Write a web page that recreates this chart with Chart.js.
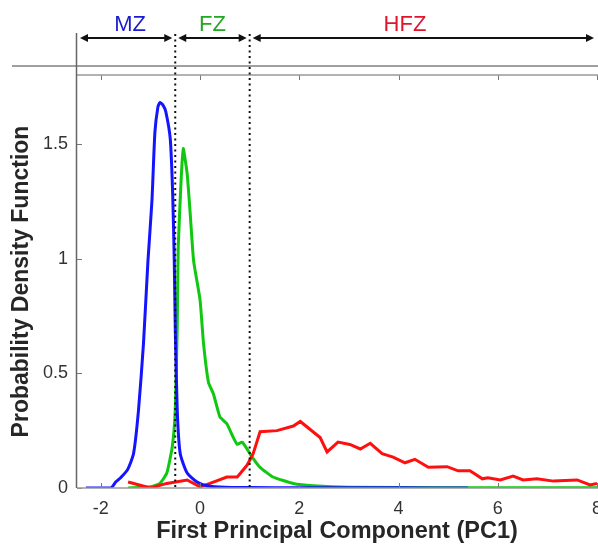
<!DOCTYPE html>
<html>
<head>
<meta charset="utf-8">
<script src="https://cdn.jsdelivr.net/npm/chart.js@4"></script>
<style>
    html, body { margin: 0; padding: 0; background: #fff; }
    canvas { display: block; }
</style>
</head>
<body>
<canvas id="pdfChart" width="598" height="546"></canvas>
<script>
// PDF curves of PC1 for the three zones
const mzX = [-2.3, -1.8, -1.7, -1.6, -1.46, -1.34, -1.24, -1.14, -1.05, -0.97, -0.91, -0.85, -0.81, -0.75, -0.69, -0.6, -0.55, -0.52, -0.5, -0.46, -0.4, -0.26, -0.06, 0.14, 0.5, 1, 2, 3, 4, 5.4];
const mzY = [0, 0, 0.026, 0.045, 0.08, 0.15, 0.34, 0.63, 0.99, 1.25, 1.55, 1.66, 1.68, 1.67, 1.64, 1.52, 1.27, 0.99, 0.7, 0.34, 0.15, 0.065, 0.026, 0.01, 0.003, 0.002, 0.001, 0.001, 0.001, 0];

const fzX = [-1.45, -1.0, -0.81, -0.67, -0.56, -0.5, -0.46, -0.44, -0.38, -0.34, -0.26, -0.2, -0.13, 0.0, 0.07, 0.17, 0.27, 0.4, 0.54, 0.67, 0.75, 0.85, 1.05, 1.21, 1.47, 1.88, 2.28, 3, 5, 8];
const fzY = [0, 0.005, 0.02, 0.065, 0.18, 0.34, 0.7, 1.05, 1.35, 1.48, 1.37, 1.2, 0.99, 0.82, 0.63, 0.46, 0.41, 0.31, 0.28, 0.22, 0.19, 0.2, 0.135, 0.09, 0.048, 0.02, 0.01, 0.003, 0.001, 0.001];

const hfzX = [-1.45, -1.0, -0.67, -0.26, 0.0, 0.2, 0.54, 0.75, 0.95, 1.07, 1.21, 1.55, 1.88, 2.02, 2.42, 2.56, 2.78, 3.02, 3.23, 3.43, 3.67, 3.89, 4.13, 4.33, 4.6, 4.98, 5.2, 5.44, 5.69, 5.8, 6.05, 6.31, 6.51, 6.79, 7.12, 7.6, 7.86, 8];
const hfzY = [0.026, 0, 0.02, 0.035, 0.005, 0.02, 0.048, 0.048, 0.1, 0.15, 0.245, 0.25, 0.27, 0.29, 0.22, 0.157, 0.2, 0.19, 0.17, 0.195, 0.15, 0.135, 0.11, 0.125, 0.09, 0.093, 0.075, 0.075, 0.04, 0.045, 0.035, 0.052, 0.035, 0.04, 0.03, 0.035, 0.013, 0.02];

const xTicks = [-2, 0, 2, 4, 6, 8];
const yTicks = [0, 0.5, 1, 1.5];

// zone boundaries (dotted lines) and labels above the plot
const zoneEdges = [-2.48, -0.5, 1.0, 8];
const zoneNames = ['MZ', 'FZ', 'HFZ'];
const zoneColors = ['#1a1ad0', '#22a822', '#e0142c'];

const FONT = '"Liberation Sans", Arial, Helvetica, sans-serif';

function toPoints(xs, ys) {
    return xs.map((x, i) => ({ x: x, y: ys[i] }));
}

function drawArrowHead(ctx, x, y, dir) {
    ctx.beginPath();
    ctx.moveTo(x, y);
    ctx.lineTo(x - dir * 8, y - 4);
    ctx.lineTo(x - dir * 8, y + 4);
    ctx.closePath();
    ctx.fill();
}

const decorPlugin = {
    id: 'decor',
    afterDatasetsDraw(chart) {
        const ctx = chart.ctx;
        const area = chart.chartArea;
        const xs = chart.scales.x;
        const ys = chart.scales.y;
        ctx.save();

        // tick marks pointing inward
        ctx.strokeStyle = '#777';
        ctx.lineWidth = 1;
        xTicks.forEach(v => {
            const px = Math.round(xs.getPixelForValue(v)) + 0.5;
            ctx.beginPath();
            ctx.moveTo(px, area.bottom);
            ctx.lineTo(px, area.bottom - 5);
            ctx.moveTo(px, area.top);
            ctx.lineTo(px, area.top + 5);
            ctx.stroke();
        });
        yTicks.forEach(v => {
            const py = Math.round(ys.getPixelForValue(v)) + 0.5;
            ctx.beginPath();
            ctx.moveTo(area.left, py);
            ctx.lineTo(area.left + 5, py);
            ctx.stroke();
        });

        // bottom axis and top border of plot
        ctx.strokeStyle = '#999';
        ctx.lineWidth = 1.5;
        ctx.beginPath();
        ctx.moveTo(area.left, area.bottom);
        ctx.lineTo(chart.width, area.bottom);
        ctx.moveTo(area.left, area.top);
        ctx.lineTo(chart.width, area.top);
        ctx.stroke();

        // outer gray line above the plot
        ctx.strokeStyle = '#a0a0a0';
        ctx.lineWidth = 2;
        ctx.beginPath();
        ctx.moveTo(12, area.top - 9);
        ctx.lineTo(chart.width, area.top - 9);
        ctx.stroke();

        // left axis, extended up into the header
        ctx.strokeStyle = '#666';
        ctx.lineWidth = 1.5;
        ctx.beginPath();
        ctx.moveTo(area.left - 0.5, 33);
        ctx.lineTo(area.left - 0.5, area.bottom);
        ctx.stroke();

        // dotted zone boundaries
        ctx.strokeStyle = '#111';
        ctx.lineWidth = 2;
        ctx.setLineDash([2, 3.5]);
        [zoneEdges[1], zoneEdges[2]].forEach(v => {
            const px = xs.getPixelForValue(v);
            ctx.beginPath();
            ctx.moveTo(px, 34);
            ctx.lineTo(px, area.bottom);
            ctx.stroke();
        });
        ctx.setLineDash([]);

        // double arrows and zone names
        const arrowY = 38;
        ctx.strokeStyle = '#111';
        ctx.fillStyle = '#111';
        ctx.lineWidth = 2;
        for (let i = 0; i < zoneNames.length; i++) {
            const x0 = xs.getPixelForValue(zoneEdges[i]) + 3;
            const x1 = Math.min(xs.getPixelForValue(zoneEdges[i + 1]) - 3, chart.width - 1);
            ctx.beginPath();
            ctx.moveTo(x0 + 4, arrowY);
            ctx.lineTo(x1 - 4, arrowY);
            ctx.stroke();
            drawArrowHead(ctx, x0, arrowY, -1);
            drawArrowHead(ctx, x1, arrowY, 1);

            ctx.save();
            ctx.fillStyle = zoneColors[i];
            ctx.font = '22px ' + FONT;
            ctx.textAlign = 'center';
            ctx.textBaseline = 'alphabetic';
            const mid = i === 2 ? 405 : (x0 + x1) / 2 + (i === 0 ? 4 : 0);
            ctx.fillText(zoneNames[i], mid, 31);
            ctx.restore();
        }
        ctx.restore();
    }
};

const ctx = document.getElementById('pdfChart').getContext('2d');
new Chart(ctx, {
    type: 'line',
    data: {
        datasets: [
            { label: 'MZ', data: toPoints(mzX, mzY), borderColor: '#1414ff', borderWidth: 3, pointRadius: 0, tension: 0.2, fill: false },
            { label: 'HFZ', data: toPoints(hfzX, hfzY), borderColor: '#ff1010', borderWidth: 3, pointRadius: 0, tension: 0, fill: false },
            { label: 'FZ', data: toPoints(fzX, fzY), borderColor: '#10c810', borderWidth: 3, pointRadius: 0, tension: 0.15, fill: false }
        ]
    },
    options: {
        responsive: false,
        animation: false,
        layout: { padding: { left: 0, right: 1, top: 75, bottom: 0 } },
        plugins: {
            legend: { display: false },
            tooltip: { enabled: false }
        },
        scales: {
            x: {
                type: 'linear',
                min: zoneEdges[0],
                max: 8,
                afterBuildTicks: scale => { scale.ticks = xTicks.map(v => ({ value: v })); },
                afterFit: scale => {
                    scale.height = 58;
                    scale.paddingLeft = 0;
                    scale.paddingRight = 0;
                },
                grid: { display: false, drawTicks: false },
                border: { display: false },
                ticks: {
                    padding: 10,
                    color: '#333',
                    font: { family: FONT, size: 18 },
                    maxRotation: 0,
                    autoSkip: false,
                    callback: v => String(v)
                },
                title: {
                    display: true,
                    text: 'First Principal Component (PC1)',
                    color: '#262626',
                    font: { family: FONT, size: 23.5, weight: 'bold' },
                    padding: { top: 0, bottom: 0 }
                }
            },
            y: {
                min: 0,
                max: 1.8,
                afterBuildTicks: scale => { scale.ticks = yTicks.map(v => ({ value: v })); },
                afterFit: scale => {
                    scale.width = 77;
                    scale.paddingTop = 0;
                    scale.paddingBottom = 0;
                },
                grid: { display: false, drawTicks: false },
                border: { display: false },
                ticks: {
                    padding: 9,
                    color: '#333',
                    font: { family: FONT, size: 18 },
                    callback: v => String(v)
                },
                title: {
                    display: true,
                    text: 'Probability Density Function',
                    color: '#262626',
                    font: { family: FONT, size: 23, weight: 'bold' },
                    padding: { top: 8, bottom: 0 }
                }
            }
        }
    },
    plugins: [decorPlugin]
});
</script>
</body>
</html>
